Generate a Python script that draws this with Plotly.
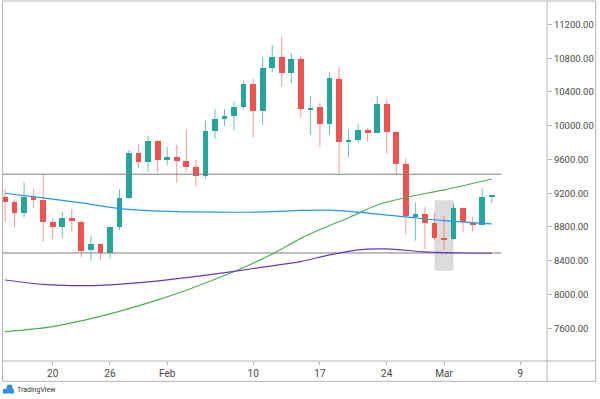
import plotly.graph_objects as go
import pandas as pd

# ---- data ----
start_date = "2020-01-15"
opens = [9152, 9100, 8963, 9152, 9120, 8863, 8797, 8911, 8863, 8528, 8599, 8496, 8797, 9140, 9674, 9574,
         9823, 9603, 9626, 9586, 9515, 9405, 9942, 10077, 10116, 10219, 10495, 10175, 10688, 10818, 10622,
         10791, 10195, 10219, 10021, 10554, 9811, 9831, 9950, 9918, 10258, 9930, 9547, 8915, 8954, 8844,
         8674, 8655, 9022, 8844, 8824, 9159]
highs = [9251, 9129, 9330, 9247, 9425, 8903, 8982, 9014, 8870, 8694, 8600, 8800, 9247, 9713, 9780, 9882,
         9830, 9748, 9772, 9950, 9594, 10060, 10195, 10195, 10285, 10534, 10554, 10811, 10957, 11055, 10859,
         10827, 10353, 10273, 10641, 10693, 9958, 10017, 9970, 10353, 10314, 9935, 9614, 9093, 9041, 8966,
         8931, 9081, 9025, 8922, 9259, 9172]
lows = [8860, 8804, 8911, 9029, 8626, 8655, 8666, 8745, 8441, 8401, 8409, 8429, 8765, 9130, 9496, 9456,
        9444, 9532, 9325, 9456, 9286, 9373, 9851, 9997, 9950, 10195, 9859, 10009, 10634, 10463, 10503,
        10100, 9891, 9745, 9891, 9437, 9626, 9799, 9811, 9915, 9665, 9428, 8717, 8638, 8536, 8638,
        8528, 8650, 8745, 8745, 8820, 9081]
closes = [9100, 8963, 9152, 9117, 8856, 8797, 8911, 8868, 8520, 8599, 8496, 8797, 9140, 9674, 9571, 9819,
          9594, 9626, 9586, 9515, 9405, 9942, 10077, 10116, 10219, 10495, 10175, 10688, 10818, 10622, 10791,
          10195, 10214, 10021, 10562, 9811, 9831, 9950, 9918, 10258, 9930, 9547, 8931, 8954, 8844, 8674,
          8655, 9022, 8863, 8824, 9159, 9171]

ma_blue_dates = ["2020-01-15", "2020-01-19", "2020-01-23", "2020-01-27", "2020-01-30", "2020-02-04",
                 "2020-02-11", "2020-02-15", "2020-02-18", "2020-02-21", "2020-02-26", "2020-03-01", "2020-03-06"]
ma_blue = [9200, 9144, 9085, 9018, 8995, 8978, 8978, 8996, 9000, 8975, 8920, 8876, 8836]

ma_green_dates = ["2020-01-15", "2020-01-20", "2020-01-26", "2020-01-30", "2020-02-03", "2020-02-06",
                  "2020-02-09", "2020-02-12", "2020-02-15", "2020-02-17", "2020-02-20", "2020-02-23",
                  "2020-02-26", "2020-03-01", "2020-03-06"]
ma_green = [7560, 7620, 7770, 7900, 8050, 8180, 8320, 8480, 8665, 8770, 8910, 9060, 9150, 9240, 9369]

ma_purple_dates = ["2020-01-15", "2020-01-19", "2020-01-22", "2020-01-26", "2020-01-30", "2020-02-03",
                   "2020-02-08", "2020-02-12", "2020-02-15", "2020-02-18", "2020-02-21", "2020-02-24",
                   "2020-02-28", "2020-03-03", "2020-03-06"]
ma_purple = [8172, 8120, 8105, 8115, 8150, 8200, 8275, 8340, 8390, 8470, 8530, 8540, 8505, 8492, 8489]

levels = [9425, 8492]
level_end = "2020-03-07"

highlight_x = ["2020-02-29", "2020-03-02"]
highlight_y = [8280, 9118]

x_tickvals = ["2020-01-20", "2020-01-26", "2020-02-01", "2020-02-10", "2020-02-17", "2020-02-24",
              "2020-03-01", "2020-03-09"]
x_ticktext = ["20", "26", "Feb", "10", "17", "24", "Mar", "9"]
y_tickvals = [7600, 8000, 8400, 8800, 9200, 9600, 10000, 10400, 10800, 11200]

x_range = ["2020-01-14 19:00", "2020-03-11 19:00"]
y_range = [7212, 11478]

# ---- build ----
dates = pd.date_range(start_date, periods=len(opens), freq="D")
UP = "#26a69a"
DOWN = "#ef5350"

fig = go.Figure()

# support / resistance levels
for lv in levels:
    fig.add_trace(go.Scatter(x=[x_range[0], level_end], y=[lv, lv], mode="lines",
                             line=dict(color="#7d7d7d", width=1), hoverinfo="skip", showlegend=False))

# wicks
for is_up, col in [(True, "rgba(38,166,154,0.7)"), (False, "rgba(239,83,80,0.6)")]:
    wx, wy = [], []
    for d, o, h, l, c in zip(dates, opens, highs, lows, closes):
        if (c >= o) == is_up:
            wx += [d, d, None]
            wy += [l, h, None]
    fig.add_trace(go.Scatter(x=wx, y=wy, mode="lines", line=dict(color=col, width=1),
                             hoverinfo="skip", showlegend=False))

# bodies
base = [min(o, c) for o, c in zip(opens, closes)]
height = [max(abs(c - o), 18) for o, c in zip(opens, closes)]
colors = [UP if c >= o else DOWN for o, c in zip(opens, closes)]
fig.add_trace(go.Bar(x=dates, y=height, base=base, marker=dict(color=colors, line=dict(width=0)),
                     width=0.6 * 86400000, showlegend=False))

# moving averages
fig.add_trace(go.Scatter(x=ma_green_dates, y=ma_green, mode="lines",
                         line=dict(color="#4caf50", width=1.2, shape="spline", smoothing=0.8), showlegend=False))
fig.add_trace(go.Scatter(x=ma_purple_dates, y=ma_purple, mode="lines",
                         line=dict(color="#673ab7", width=1.2, shape="spline", smoothing=0.8), showlegend=False))
fig.add_trace(go.Scatter(x=ma_blue_dates, y=ma_blue, mode="lines",
                         line=dict(color="#2196f3", width=1.2, shape="spline", smoothing=0.8), showlegend=False))

# highlight box
fig.add_shape(type="rect", xref="x", yref="y", x0=highlight_x[0], x1=highlight_x[1],
              y0=highlight_y[0], y1=highlight_y[1], fillcolor="#dcdcdc", line=dict(width=0), layer="below")

FRAME = "#b4b4b4"
# outer frame
fig.add_shape(type="rect", xref="paper", yref="paper", x0=-0.0009, x1=1.0895, y0=-0.0565, y1=1.0,
              line=dict(color=FRAME, width=1), fillcolor="rgba(0,0,0,0)")
# axis separators
fig.add_shape(type="line", xref="paper", yref="paper", x0=1.0, x1=1.0, y0=-0.0565, y1=1.0,
              line=dict(color=FRAME, width=1))
fig.add_shape(type="line", xref="paper", yref="paper", x0=0, x1=1.0895, y0=0, y1=0,
              line=dict(color=FRAME, width=1))

# TradingView logo
fig.add_shape(type="circle", xref="paper", yref="paper", x0=0.0065, x1=0.0175, y0=-0.0835, y1=-0.0655,
              fillcolor="#2f8fdd", line=dict(width=0))
fig.add_shape(type="rect", xref="paper", yref="paper", x0=0.0, x1=0.020, y0=-0.0905, y1=-0.0775,
              fillcolor="#2f8fdd", line=dict(width=0))
fig.add_annotation(text="TradingView", xref="paper", yref="paper", x=0.022, y=-0.081,
                   xanchor="left", yanchor="middle", showarrow=False,
                   font=dict(family="Roboto", size=7, color="#333333"))

fig.update_layout(
    width=600, height=399,
    margin=dict(l=3, r=53, t=1, b=38, autoexpand=False),
    paper_bgcolor="white", plot_bgcolor="white",
    barmode="overlay", bargap=0,
    font=dict(family="Roboto", size=9, color="#4a4a4a"),
    showlegend=False,
    xaxis=dict(type="date", range=x_range, tickvals=x_tickvals, ticktext=x_ticktext, automargin=False,
               showgrid=False, zeroline=False, showline=False, ticks="outside", ticklen=3,
               tickcolor=FRAME, tickfont=dict(size=10, color="#4a4a4a"), fixedrange=True),
    yaxis=dict(side="right", range=y_range, tickvals=y_tickvals, tickformat=".2f", automargin=False,
               showgrid=False, zeroline=False, showline=False, ticks="outside", ticklen=4,
               tickcolor=FRAME, tickfont=dict(size=9.5, color="#4a4a4a"), fixedrange=True),
)

fig.write_html("out.html", config={"displayModeBar": False},
               post_script="document.body.style.margin='0';document.body.style.overflow='hidden';")
